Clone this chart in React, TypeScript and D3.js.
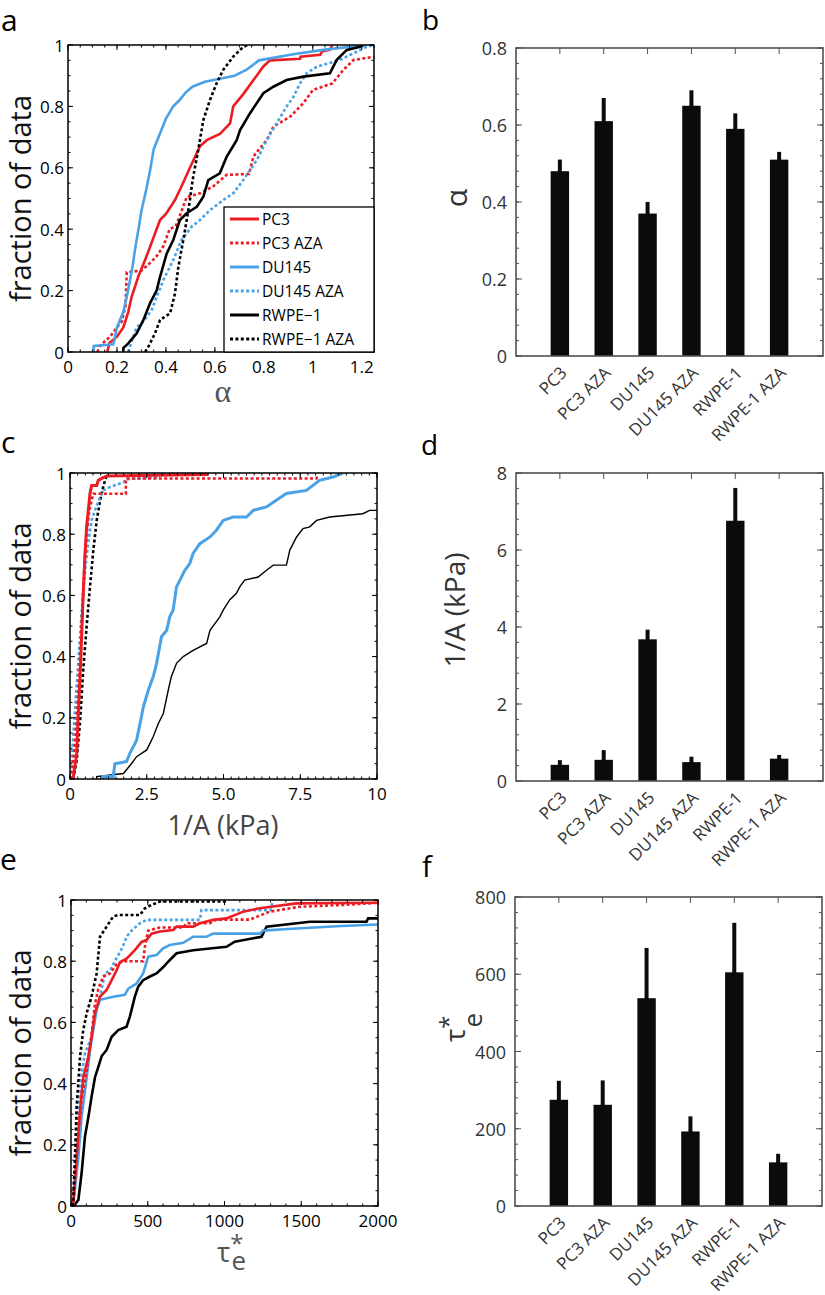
import React from 'react';
import * as d3 from 'd3';

type Pt = [number, number];

// ---------- Bar data ----------
const CATEGORIES = ['PC3', 'PC3 AZA', 'DU145', 'DU145 AZA', 'RWPE-1', 'RWPE-1 AZA'];
const ALPHA_MEAN = [0.48, 0.61, 0.37, 0.65, 0.59, 0.51];
const ALPHA_ERR = [0.025, 0.055, 0.025, 0.035, 0.035, 0.015];
const INV_A_MEAN = [0.42, 0.55, 3.68, 0.49, 6.76, 0.58];
const INV_A_ERR = [0.07, 0.2, 0.2, 0.09, 0.8, 0.045];
const TAU_MEAN = [275, 262, 538, 193, 605, 113];
const TAU_ERR = [44, 58, 125, 34, 123, 17];

const B_TICKS = [0, 0.2, 0.4, 0.6, 0.8];
const B_TICK_LABELS = ['0', '0.2', '0.4', '0.6', '0.8'];
const D_TICKS = [0, 2, 4, 6, 8];
const D_TICK_LABELS = ['0', '2', '4', '6', '8'];
const F_TICKS = [0, 200, 400, 600, 800];
const F_TICK_LABELS = ['0', '200', '400', '600', '800'];

// ---------- CDF tick labels ----------
const CDF_Y_TICKS = [0, 0.2, 0.4, 0.6, 0.8, 1];
const CDF_Y_LABELS = ['0', '0.2', '0.4', '0.6', '0.8', '1'];
const A_X_TICKS = [0, 0.2, 0.4, 0.6, 0.8, 1, 1.2];
const A_X_LABELS = ['0', '0.2', '0.4', '0.6', '0.8', '1', '1.2'];
const C_X_TICKS = [0, 2.5, 5, 7.5, 10];
const C_X_LABELS = ['0', '2.5', '5.0', '7.5', '10'];
const E_X_TICKS = [0, 500, 1000, 1500, 2000];
const E_X_LABELS = ['0', '500', '1000', '1500', '2000'];

const LEGEND_NAMES = ['PC3', 'PC3 AZA', 'DU145', 'DU145 AZA', 'RWPE\u22121', 'RWPE\u22121 AZA'];

// ---------- Panel a (alpha CDF) ----------
const A_PC3: Pt[] = [[0.16,0],[0.17,0.03],[0.2,0.05],[0.226,0.08],[0.246,0.13],[0.26,0.18],[0.287,0.245],[0.32,0.31],[0.355,0.385],[0.376,0.43],[0.40,0.45],[0.437,0.495],[0.464,0.54],[0.498,0.60],[0.539,0.67],[0.567,0.69],[0.62,0.71],[0.662,0.745],[0.675,0.80],[0.716,0.84],[0.757,0.885],[0.798,0.93],[0.825,0.95],[0.948,0.955],[0.95,0.962],[1.03,0.968],[1.04,0.98],[1.07,0.985],[1.08,1.0]];
const A_PC3_AZA: Pt[] = [[0.12,0],[0.13,0.02],[0.172,0.05],[0.2,0.08],[0.22,0.10],[0.235,0.15],[0.24,0.26],[0.30,0.265],[0.335,0.29],[0.36,0.31],[0.39,0.345],[0.415,0.40],[0.44,0.41],[0.46,0.45],[0.485,0.505],[0.54,0.517],[0.594,0.54],[0.648,0.577],[0.74,0.58],[0.757,0.636],[0.78,0.66],[0.812,0.69],[0.839,0.734],[0.907,0.766],[0.961,0.81],[1.0,0.853],[1.08,0.875],[1.125,0.919],[1.166,0.951],[1.25,0.962]];
const A_DU145: Pt[] = [[0.105,0],[0.105,0.02],[0.185,0.025],[0.19,0.04],[0.20,0.08],[0.215,0.11],[0.226,0.13],[0.24,0.18],[0.25,0.22],[0.262,0.27],[0.275,0.34],[0.29,0.41],[0.30,0.46],[0.32,0.53],[0.335,0.59],[0.35,0.66],[0.375,0.71],[0.40,0.76],[0.43,0.80],[0.455,0.82],[0.48,0.845],[0.51,0.865],[0.56,0.88],[0.62,0.89],[0.68,0.90],[0.73,0.92],[0.78,0.95],[0.92,0.97],[1.05,0.985],[1.22,1.0]];
const A_DU145_AZA: Pt[] = [[0.245,0],[0.25,0.01],[0.28,0.08],[0.308,0.10],[0.342,0.137],[0.362,0.18],[0.39,0.235],[0.43,0.30],[0.464,0.365],[0.505,0.408],[0.539,0.43],[0.58,0.462],[0.634,0.495],[0.675,0.517],[0.716,0.56],[0.73,0.577],[0.771,0.625],[0.812,0.69],[0.852,0.745],[0.893,0.80],[0.92,0.83],[0.948,0.875],[0.975,0.908],[1.016,0.929],[1.11,0.951],[1.166,0.973],[1.22,0.994],[1.25,1.0]];
const A_RWPE: Pt[] = [[0.226,0],[0.226,0.013],[0.246,0.028],[0.28,0.06],[0.308,0.104],[0.335,0.159],[0.362,0.2],[0.376,0.245],[0.403,0.32],[0.43,0.365],[0.457,0.43],[0.485,0.452],[0.526,0.473],[0.553,0.506],[0.573,0.56],[0.62,0.582],[0.648,0.636],[0.689,0.69],[0.703,0.723],[0.743,0.777],[0.798,0.843],[0.839,0.864],[0.893,0.886],[0.961,0.897],[1.07,0.908],[1.097,0.951],[1.139,0.984],[1.193,0.994],[1.205,1.0]];
const A_RWPE_AZA: Pt[] = [[0.315,0],[0.33,0.02],[0.355,0.06],[0.376,0.104],[0.417,0.126],[0.437,0.19],[0.451,0.278],[0.471,0.365],[0.485,0.43],[0.498,0.495],[0.509,0.56],[0.532,0.658],[0.553,0.756],[0.58,0.821],[0.607,0.875],[0.634,0.919],[0.675,0.962],[0.716,0.994],[0.736,1.0]];

// ---------- Panel c (1/A CDF) ----------
const C_PC3: Pt[] = [[0.08,0],[0.11,0.007],[0.217,0.082],[0.27,0.212],[0.35,0.388],[0.43,0.606],[0.49,0.736],[0.54,0.823],[0.65,0.932],[0.705,0.959],[0.87,0.959],[0.92,0.976],[1.08,0.985],[1.2,0.99],[4.5,0.995]];
const C_PC3_AZA: Pt[] = [[0.03,0],[0.05,0.007],[0.16,0.112],[0.27,0.276],[0.35,0.44],[0.43,0.606],[0.49,0.736],[0.54,0.80],[0.63,0.878],[0.76,0.932],[1.82,0.932],[1.82,0.982],[8.03,0.982],[8.05,0.99]];
const C_DU145: Pt[] = [[1.08,0],[1.08,0.008],[1.41,0.008],[1.46,0.05],[1.84,0.057],[1.95,0.084],[2.17,0.127],[2.28,0.18],[2.39,0.236],[2.55,0.29],[2.71,0.334],[2.82,0.378],[2.98,0.465],[3.15,0.486],[3.25,0.53],[3.36,0.552],[3.47,0.628],[3.74,0.682],[3.9,0.704],[4.01,0.737],[4.23,0.769],[4.56,0.791],[4.77,0.813],[4.99,0.845],[5.31,0.856],[5.75,0.856],[5.97,0.878],[6.4,0.889],[6.72,0.911],[7.05,0.933],[7.7,0.943],[8.13,0.976],[8.57,0.987],[8.89,1.0]];
const C_DU145_AZA: Pt[] = [[0,0],[0.01,0.007],[0.087,0.112],[0.16,0.22],[0.27,0.38],[0.38,0.545],[0.49,0.68],[0.6,0.78],[0.705,0.845],[0.81,0.878],[0.98,0.92],[1.08,0.943],[1.3,0.954],[1.74,0.97],[1.85,0.98],[2.8,0.985],[2.85,0.99]];
const C_RWPE: Pt[] = [[0.87,0],[0.87,0.008],[1.74,0.018],[2.0,0.05],[2.17,0.073],[2.5,0.095],[2.71,0.138],[2.87,0.18],[3.04,0.214],[3.2,0.29],[3.3,0.334],[3.47,0.378],[3.69,0.40],[4.01,0.42],[4.45,0.443],[4.56,0.486],[4.72,0.508],[4.88,0.53],[4.99,0.552],[5.2,0.585],[5.42,0.607],[5.53,0.628],[5.69,0.65],[6.13,0.66],[6.4,0.682],[6.62,0.699],[7.05,0.699],[7.16,0.748],[7.38,0.791],[7.59,0.818],[7.81,0.824],[8.03,0.845],[8.46,0.856],[9.54,0.867],[9.76,0.878],[10,0.878]];
const C_RWPE_AZA: Pt[] = [[0.1,0],[0.11,0.002],[0.217,0.06],[0.33,0.19],[0.43,0.355],[0.54,0.497],[0.65,0.627],[0.76,0.747],[0.87,0.845],[0.98,0.91],[1.08,0.954],[1.19,0.992],[1.25,1.0]];

// ---------- Panel e (tau CDF) ----------
const E_PC3: Pt[] = [[10,0],[15,0.01],[37,0.16],[59,0.315],[80,0.42],[113,0.488],[134,0.553],[156,0.63],[189,0.684],[232,0.706],[265,0.738],[297,0.77],[319,0.797],[362,0.808],[416,0.836],[460,0.863],[492,0.869],[525,0.89],[579,0.897],[666,0.902],[688,0.913],[796,0.913],[839,0.924],[926,0.935],[1013,0.94],[1122,0.962],[1230,0.973],[1469,0.989],[2000,0.991]];
const E_PC3_AZA: Pt[] = [[8,0],[11,0.01],[37,0.18],[69,0.35],[102,0.44],[134,0.56],[156,0.66],[178,0.71],[210,0.75],[254,0.76],[297,0.79],[340,0.80],[470,0.80],[482,0.85],[503,0.90],[579,0.91],[731,0.91],[753,0.924],[904,0.924],[948,0.936],[1165,0.936],[1295,0.962],[1490,0.978],[1773,0.984],[1970,0.99],[2000,0.99]];
const E_DU145: Pt[] = [[10,0],[15,0.005],[48,0.16],[69,0.29],[102,0.42],[124,0.51],[145,0.575],[167,0.64],[189,0.674],[275,0.684],[351,0.69],[373,0.71],[427,0.727],[470,0.76],[503,0.815],[557,0.82],[600,0.842],[644,0.853],[731,0.86],[796,0.88],[883,0.88],[926,0.89],[1230,0.89],[1252,0.90],[1415,0.905],[1760,0.915],[2000,0.92]];
const E_DU145_AZA: Pt[] = [[8,0],[11,0.005],[26,0.16],[48,0.31],[69,0.43],[91,0.5],[134,0.55],[156,0.64],[178,0.66],[200,0.71],[221,0.76],[254,0.77],[286,0.80],[308,0.82],[340,0.85],[362,0.88],[395,0.90],[449,0.924],[492,0.935],[839,0.935],[850,0.967],[1300,0.967],[1317,1.0]];
const E_RWPE: Pt[] = [[20,0],[26,0.005],[48,0.02],[69,0.107],[91,0.227],[113,0.29],[134,0.357],[156,0.42],[178,0.455],[200,0.49],[232,0.51],[265,0.553],[308,0.575],[362,0.586],[384,0.62],[416,0.684],[438,0.717],[470,0.738],[514,0.75],[557,0.76],[600,0.78],[644,0.804],[688,0.826],[796,0.836],[1013,0.847],[1067,0.864],[1241,0.88],[1274,0.913],[1556,0.929],[1925,0.929],[1936,0.94],[2000,0.94]];
const E_RWPE_AZA: Pt[] = [[10,0],[15,0.01],[26,0.16],[37,0.325],[59,0.488],[80,0.575],[102,0.63],[134,0.684],[167,0.76],[189,0.88],[232,0.913],[275,0.946],[308,0.951],[449,0.951],[482,0.973],[525,0.984],[579,0.995],[1010,0.995],[1013,1.0]];

const RED = '#ec1c24';
const BLUE = '#4aa2e6';
const BLACK = '#000000';
const FONT = "'Open Sans', 'Noto Sans', sans-serif";

interface Series { color: string; dashed: boolean; width: number; data: Pt[] }

interface CdfProps {
  id: string; left: number; right: number; top: number; bottom: number;
  xDomain: [number, number]; xTicks: number[]; xLabels: string[]; xMinorStep: number;
  series: Series[]; children?: React.ReactNode;
}

function CdfPanel(p: CdfProps) {
  const x = d3.scaleLinear().domain(p.xDomain).range([p.left, p.right]);
  const y = d3.scaleLinear().domain([0, 1]).range([p.bottom, p.top]);
  const line = d3.line<Pt>().x(d => x(d[0])).y(d => y(d[1]));
  const xMinor = d3.range(p.xDomain[0], p.xDomain[1] + 1e-9, p.xMinorStep);
  const yMinor = d3.range(0, 1.0001, 0.05);
  const M = 5, m = 2.5;
  return (
    <g>
      <defs>
        <clipPath id={p.id}>
          <rect x={p.left} y={p.top} width={p.right - p.left} height={p.bottom - p.top} />
        </clipPath>
      </defs>
      <g clipPath={`url(#${p.id})`}>
        {p.series.map((s, i) => (
          <path key={i} d={line(s.data) || ''} fill="none" stroke={s.color} strokeWidth={s.width}
            strokeDasharray={s.dashed ? '3 2.4' : undefined} strokeLinejoin="miter" />
        ))}
      </g>
      <g stroke="#000" strokeWidth={1}>
        {xMinor.map((v, i) => (
          <g key={'xm' + i}>
            <line x1={x(v)} x2={x(v)} y1={p.bottom} y2={p.bottom - m} />
            <line x1={x(v)} x2={x(v)} y1={p.top} y2={p.top + m} />
          </g>
        ))}
        {p.xTicks.map((v, i) => (
          <g key={'xM' + i}>
            <line x1={x(v)} x2={x(v)} y1={p.bottom} y2={p.bottom - M} />
            <line x1={x(v)} x2={x(v)} y1={p.top} y2={p.top + M} />
          </g>
        ))}
        {yMinor.map((v, i) => (
          <g key={'ym' + i}>
            <line x1={p.left} x2={p.left + m} y1={y(v)} y2={y(v)} />
            <line x1={p.right} x2={p.right - m} y1={y(v)} y2={y(v)} />
          </g>
        ))}
        {CDF_Y_TICKS.map((v, i) => (
          <g key={'yM' + i}>
            <line x1={p.left} x2={p.left + M} y1={y(v)} y2={y(v)} />
            <line x1={p.right} x2={p.right - M} y1={y(v)} y2={y(v)} />
          </g>
        ))}
      </g>
      <rect x={p.left} y={p.top} width={p.right - p.left} height={p.bottom - p.top} fill="none" stroke="#000" strokeWidth={1.5} />
      <g fontFamily={FONT} fontSize={17} fill="#000">
        {CDF_Y_TICKS.map((v, i) => (
          <text key={'yl' + i} x={p.left - 4} y={y(v)} textAnchor="end" dominantBaseline="central">{CDF_Y_LABELS[i]}</text>
        ))}
        {p.xTicks.map((v, i) => (
          <text key={'xl' + i} x={x(v)} y={p.bottom + 21} textAnchor="middle">{p.xLabels[i]}</text>
        ))}
      </g>
      <text transform={`translate(31,${(p.top + p.bottom) / 2}) rotate(-90)`} textAnchor="middle"
        fontFamily={FONT} fontSize={29} fill="#111">fraction of data</text>
      {p.children}
    </g>
  );
}

interface BarProps {
  left: number; right: number; top: number; bottom: number;
  yMax: number; ticks: number[]; tickLabels: string[]; minorStep: number;
  means: number[]; errs: number[]; children?: React.ReactNode;
}

function BarPanel(p: BarProps) {
  const x = d3.scaleLinear().domain([0, CATEGORIES.length + 1]).range([p.left, p.right]);
  const y = d3.scaleLinear().domain([0, p.yMax]).range([p.bottom, p.top]);
  const halfW = 0.21;
  const minor = d3.range(0, p.yMax + 1e-9, p.minorStep);
  const AX = '#505050';
  return (
    <g>
      {p.means.map((v, i) => (
        <g key={i}>
          <line x1={x(i + 1)} x2={x(i + 1)} y1={y(v)} y2={y(v + p.errs[i])} stroke="#0a0c0a" strokeWidth={4} strokeLinecap="square" />
          <rect x={x(i + 1 - halfW)} y={y(v)} width={x(i + 1 + halfW) - x(i + 1 - halfW)} height={y(0) - y(v)} fill="#0a0c0a" />
        </g>
      ))}
      <g stroke={AX} strokeWidth={1}>
        {minor.map((v, i) => (
          <g key={'m' + i}>
            <line x1={p.left} x2={p.left + 3} y1={y(v)} y2={y(v)} />
            <line x1={p.right} x2={p.right - 3} y1={y(v)} y2={y(v)} />
          </g>
        ))}
        {p.ticks.map((v, i) => (
          <g key={'M' + i}>
            <line x1={p.left} x2={p.left + 6} y1={y(v)} y2={y(v)} />
            <line x1={p.right} x2={p.right - 6} y1={y(v)} y2={y(v)} />
          </g>
        ))}
        {CATEGORIES.map((c, i) => (
          <line key={'t' + i} x1={x(i + 1)} x2={x(i + 1)} y1={p.top} y2={p.top + 6} />
        ))}
      </g>
      <rect x={p.left} y={p.top} width={p.right - p.left} height={p.bottom - p.top} fill="none" stroke={AX} strokeWidth={1.6} />
      <g fontFamily={FONT} fill="#333">
        {p.ticks.map((v, i) => (
          <text key={'yl' + i} x={p.left - 9} y={y(v)} fontSize={18} textAnchor="end" dominantBaseline="central">{p.tickLabels[i]}</text>
        ))}
        {CATEGORIES.map((c, i) => (
          <text key={'xl' + i} transform={`translate(${x(i + 1) + 8},${p.bottom + 18}) rotate(-45)`} fontSize={17} textAnchor="end">{c}</text>
        ))}
      </g>
      {p.children}
    </g>
  );
}

function Legend() {
  const items = [
    { color: RED, dashed: false }, { color: RED, dashed: true },
    { color: BLUE, dashed: false }, { color: BLUE, dashed: true },
    { color: BLACK, dashed: false }, { color: BLACK, dashed: true },
  ];
  const x0 = 224, y0 = 207, w = 150, h = 145;
  const rowY = d3.scaleLinear().domain([0, 5]).range([219, 339]);
  return (
    <g>
      <rect x={x0} y={y0} width={w} height={h} fill="#fff" stroke="#000" strokeWidth={1.3} />
      {items.map((it, i) => (
        <g key={i}>
          <line x1={230} x2={259} y1={rowY(i)} y2={rowY(i)} stroke={it.color} strokeWidth={3}
            strokeDasharray={it.dashed ? '3 2.4' : undefined} />
          <text x={262} y={rowY(i)} dominantBaseline="central" fontFamily={FONT} fontSize={15.5} fill="#000">{LEGEND_NAMES[i]}</text>
        </g>
      ))}
    </g>
  );
}

const mk = (color: string, dashed: boolean, width: number, data: Pt[]): Series => ({ color, dashed, width, data });

export default function App() {
  const seriesA: Series[] = [
    mk(RED, false, 2.6, A_PC3), mk(RED, true, 2.6, A_PC3_AZA),
    mk(BLUE, false, 2.6, A_DU145), mk(BLUE, true, 2.6, A_DU145_AZA),
    mk(BLACK, false, 2.6, A_RWPE), mk(BLACK, true, 2.6, A_RWPE_AZA),
  ];
  const seriesC: Series[] = [
    mk(BLACK, false, 1.4, C_RWPE),
    mk(BLUE, false, 3, C_DU145),
    mk(BLACK, true, 2.6, C_RWPE_AZA),
    mk(BLUE, true, 2.6, C_DU145_AZA),
    mk(RED, true, 2.6, C_PC3_AZA),
    mk(RED, false, 3, C_PC3),
  ];
  const seriesE: Series[] = [
    mk(BLACK, false, 2.6, E_RWPE), mk(BLUE, false, 2.6, E_DU145),
    mk(BLUE, true, 2.6, E_DU145_AZA), mk(RED, true, 2.6, E_PC3_AZA),
    mk(RED, false, 2.6, E_PC3), mk(BLACK, true, 2.6, E_RWPE_AZA),
  ];
  const panelLabel = (t: string, x: number, y: number, fs: number) => (
    <text x={x} y={y} fontFamily={FONT} fontSize={fs} fill="#000">{t}</text>
  );
  return (
    <svg width={825} height={1295} viewBox="0 0 825 1295" style={{ position: 'absolute', left: 0, top: 0, background: '#fff' }}>
      <rect x={0} y={0} width={825} height={1295} fill="#fff" />
      {panelLabel('a', 1, 31, 30)}
      {panelLabel('b', 422, 30, 28)}
      {panelLabel('c', 1, 453, 30)}
      {panelLabel('d', 421, 455, 28)}
      {panelLabel('e', 0, 870, 30)}
      {panelLabel('f', 422, 877, 29)}

      <CdfPanel id="clipA" left={68} right={374} top={45} bottom={352} xDomain={[0, 1.25]}
        xTicks={A_X_TICKS} xLabels={A_X_LABELS} xMinorStep={0.05} series={seriesA}>
        <Legend />
        <text x={223} y={402} textAnchor="middle" fontFamily="'Liberation Serif', serif" fontSize={32} fill="#555">α</text>
      </CdfPanel>

      <CdfPanel id="clipC" left={70} right={377} top={473} bottom={779} xDomain={[0, 10]}
        xTicks={C_X_TICKS} xLabels={C_X_LABELS} xMinorStep={0.25} series={seriesC}>
        <text x={223} y={835} textAnchor="middle" fontFamily={FONT} fontSize={27} fill="#444">1/A (kPa)</text>
      </CdfPanel>

      <CdfPanel id="clipE" left={71} right={378} top={900} bottom={1206} xDomain={[0, 2000]}
        xTicks={E_X_TICKS} xLabels={E_X_LABELS} xMinorStep={100} series={seriesE}>
        <text x={217} y={1262} fontFamily={FONT} fill="#555">
          <tspan fontSize={28}>τ</tspan>
          <tspan fontSize={24} dy={-10}>*</tspan>
          <tspan fontSize={26} dx={-12} dy={18}>e</tspan>
        </text>
      </CdfPanel>

      <BarPanel left={516} right={823} top={48} bottom={356} yMax={0.8} ticks={B_TICKS} tickLabels={B_TICK_LABELS}
        minorStep={0.04} means={ALPHA_MEAN} errs={ALPHA_ERR}>
        <text transform="translate(467,198) rotate(-90)" textAnchor="middle" fontFamily={FONT} fontSize={30} fill="#333">α</text>
      </BarPanel>

      <BarPanel left={516} right={823} top={473} bottom={781} yMax={8} ticks={D_TICKS} tickLabels={D_TICK_LABELS}
        minorStep={0.4} means={INV_A_MEAN} errs={INV_A_ERR}>
        <text transform="translate(465,610) rotate(-90)" textAnchor="middle" fontFamily={FONT} fontSize={28} fill="#333">1/A (kPa)</text>
      </BarPanel>

      <BarPanel left={515} right={822} top={897} bottom={1206} yMax={800} ticks={F_TICKS} tickLabels={F_TICK_LABELS}
        minorStep={40} means={TAU_MEAN} errs={TAU_ERR}>
        <text transform="translate(465,1042) rotate(-90)" x={0} y={0} fontFamily={FONT} fill="#333">
          <tspan fontSize={28}>τ</tspan>
          <tspan fontSize={24} dy={-8}>*</tspan>
          <tspan fontSize={26} dx={-12} dy={25}>e</tspan>
        </text>
      </BarPanel>
    </svg>
  );
}
